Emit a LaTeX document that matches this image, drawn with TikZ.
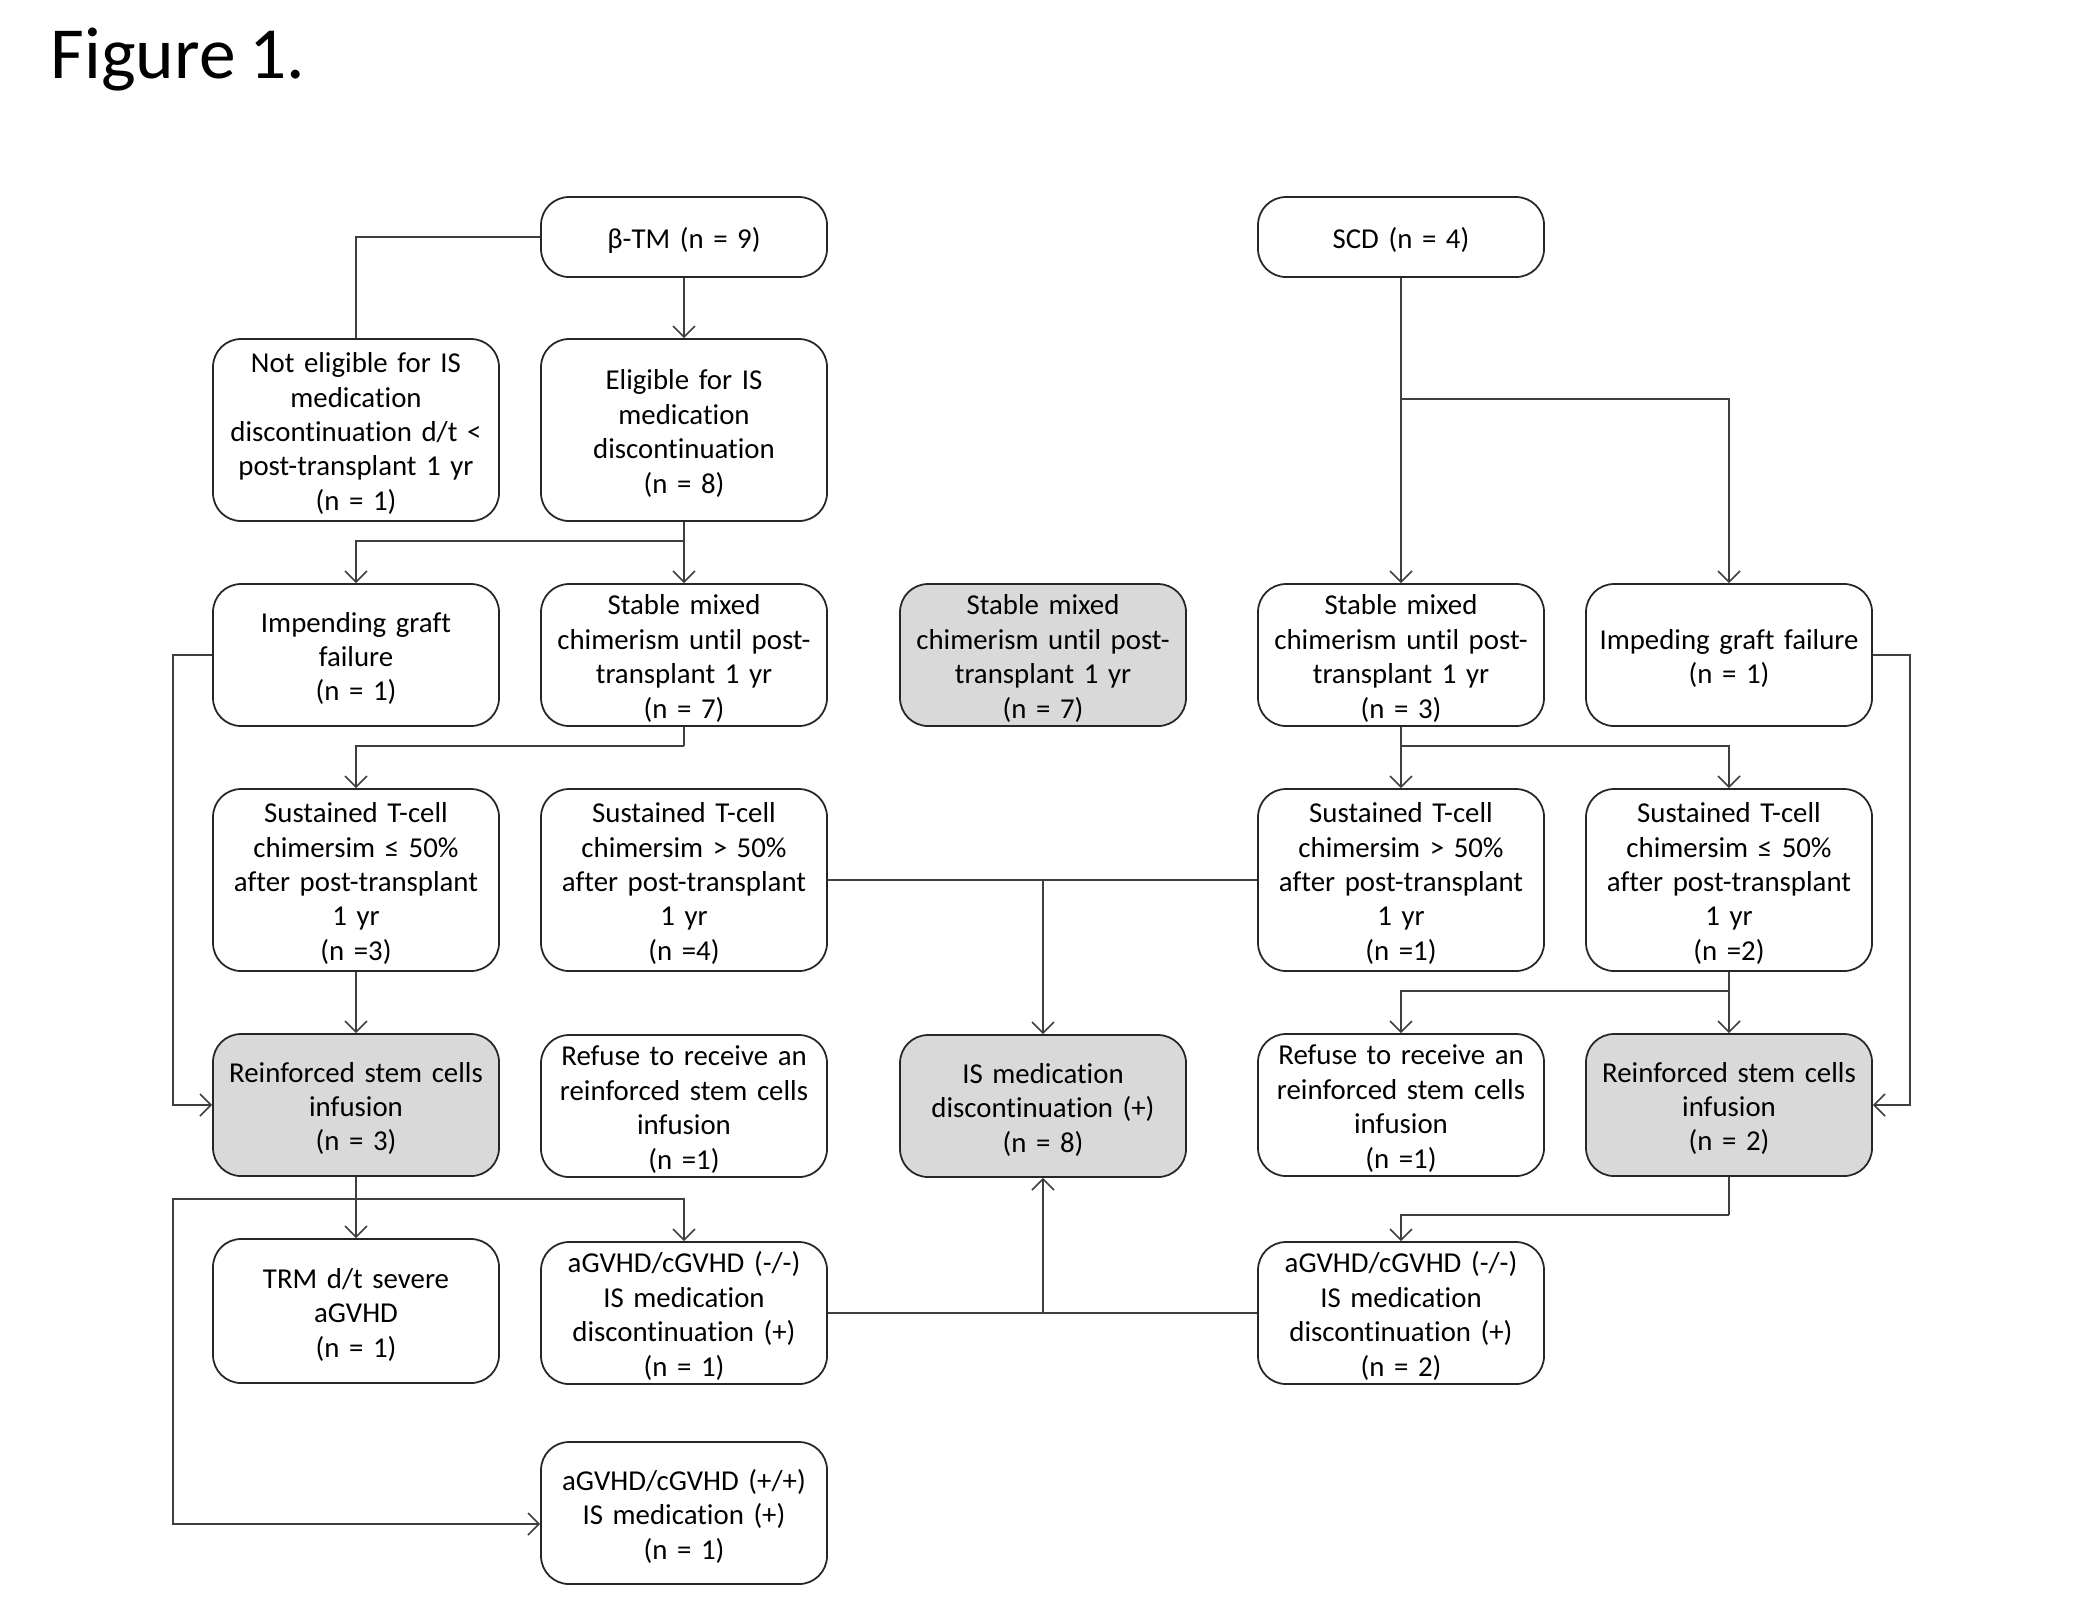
\documentclass[tikz,border=0pt]{standalone}
\usepackage{fontspec}
\setmainfont{Carlito}[Ligatures=NoCommon, WordSpace=0.85]
\usetikzlibrary{arrows.meta,calc}
\definecolor{boxgrey}{HTML}{D9D9D9}
\definecolor{linegrey}{HTML}{3F3F3F}
\newcommand{\topstrut}{\rule{0pt}{7.7pt}}
\tikzset{
  box/.style={draw=black!85, line width=0.5pt, rounded corners=2.8mm, fill=white,
    minimum width=28.6mm, text width=28mm, align=center, inner sep=0pt,
    font=\fontsize{8.2}{9.8}\selectfont,
    execute at begin node={\topstrut}},
  shaded/.style={box, fill=boxgrey},
  conn/.style={draw=linegrey, line width=0.45pt},
  arr/.style={conn, -{Straight Barb[length=1.1mm,width=2.2mm,line width=0.45pt]}}
}
\begin{document}
\begin{tikzpicture}[x=0.1mm,y=-0.1mm]
\path[use as bounding box] (0,0) rectangle (2100,1620);

\node[anchor=base west, inner sep=0pt, font=\fontsize{20.9}{24}\selectfont] (title) at (50,78) {Figure 1.};

% beta-thalassaemia branch
\node[box, minimum height=8mm] (bt) at (684,237) {β-TM (n = 9)};
\node[box, minimum height=18.2mm] (ne) at (356,430) {Not eligible for IS\\ medication\\ discontinuation d/t <\\ post-transplant 1 yr\\ (n = 1)};
\node[box, minimum height=18.2mm] (el) at (684,430) {Eligible for IS\\ medication\\ discontinuation\\ (n = 8)};
\node[box, minimum height=14.2mm] (igA) at (356,655) {Impending graft\\ failure\\ (n = 1)};
\node[box, minimum height=14.2mm] (smB) at (684,655) {Stable mixed\\ chimerism until post-\\ transplant 1 yr\\ (n = 7)};
\node[box, minimum height=18.2mm] (stA) at (356,880) {Sustained T-cell\\ chimersim ≤ 50\%\\ after post-transplant\\ 1 yr\\ (n =3)};
\node[box, minimum height=18.2mm] (stB) at (684,880) {Sustained T-cell\\ chimersim > 50\%\\ after post-transplant\\ 1 yr\\ (n =4)};
\node[shaded, minimum height=14.2mm] (rsA) at (356,1105) {Reinforced stem cells\\ infusion\\ (n = 3)};
\node[box, minimum height=14.2mm] (rfB) at (684,1106) {Refuse to receive an\\ reinforced stem cells\\ infusion\\ (n =1)};
\node[box, minimum height=14.4mm] (trm) at (356,1311) {TRM d/t severe\\ aGVHD\\ (n = 1)};
\node[box, minimum height=14.2mm] (gvB) at (684,1313) {aGVHD/cGVHD (-/-)\\ IS medication\\ discontinuation (+)\\ (n = 1)};
\node[box, minimum height=14.2mm] (gvP) at (684,1513) {aGVHD/cGVHD (+/+)\\ IS medication (+)\\ (n = 1)};

% pooled outcome column
\node[shaded, minimum height=14.2mm] (smC) at (1043,655) {Stable mixed\\ chimerism until post-\\ transplant 1 yr\\ (n = 7)};
\node[shaded, minimum height=14.2mm] (ism) at (1043,1106) {IS medication\\ discontinuation (+)\\ (n = 8)};

% sickle cell disease branch
\node[box, minimum height=8mm] (scd) at (1401,237) {SCD (n = 4)};
\node[box, minimum height=14.2mm] (smD) at (1401,655) {Stable mixed\\ chimerism until post-\\ transplant 1 yr\\ (n = 3)};
\node[box, minimum height=14.2mm] (igE) at (1729,655) {Impeding graft failure\\ (n = 1)};
\node[box, minimum height=18.2mm] (stD) at (1401,880) {Sustained T-cell\\ chimersim > 50\%\\ after post-transplant\\ 1 yr\\ (n =1)};
\node[box, minimum height=18.2mm] (stE) at (1729,880) {Sustained T-cell\\ chimersim ≤ 50\%\\ after post-transplant\\ 1 yr\\ (n =2)};
\node[box, minimum height=14.2mm] (rfD) at (1401,1105) {Refuse to receive an\\ reinforced stem cells\\ infusion\\ (n =1)};
\node[shaded, minimum height=14.2mm] (rsE) at (1729,1105) {Reinforced stem cells\\ infusion\\ (n = 2)};
\node[box, minimum height=14.2mm] (gvD) at (1401,1313) {aGVHD/cGVHD (-/-)\\ IS medication\\ discontinuation (+)\\ (n = 2)};

% junction points
\coordinate (j1) at (684,541);
\coordinate (j2) at (684,746);
\coordinate (j3) at (356,1199);
\coordinate (railLa) at (173,655);
\coordinate (railLb) at (173,1199);
\coordinate (j4) at (1401,399);
\coordinate (j5) at (1401,746);
\coordinate (j6) at (1729,991);
\coordinate (j7) at (1729,1215);
\coordinate (railR) at (1910,655);

% beta-TM connectors
\draw[conn] (bt.west) -| (ne.north);
\draw[arr] (bt.south) -- (el.north);
\draw[arr] (el.south) -- (smB.north);
\draw[arr] (j1) -| (igA.north);
\draw[conn] (smB.south) -- (j2);
\draw[arr] (j2) -| (stA.north);
\draw[arr] (stA.south) -- (rsA.north);
\draw[arr] (igA.west) -- (railLa) |- (rsA.west);
\draw[arr] (rsA.south) -- (trm.north);
\draw[arr] (j3) -| (gvB.north);
\draw[arr] (j3) -- (railLb) |- ($(gvP.west)+(0,11)$);

% links into the pooled box
\draw[conn] (stB.east) -- (stD.west);
\draw[arr] (stB.east -| ism.north) -- (ism.north);
\draw[conn] (gvB.east) -- (gvD.west);
\draw[arr] (gvB.east -| ism.south) -- (ism.south);

% SCD connectors
\draw[arr] (scd.south) -- (smD.north);
\draw[arr] (j4) -| (igE.north);
\draw[arr] (smD.south) -- (stD.north);
\draw[arr] (j5) -| (stE.north);
\draw[arr] (stE.south) -- (rsE.north);
\draw[arr] (j6) -| (rfD.north);
\draw[arr] (igE.east) -- (railR) |- (rsE.east);
\draw[conn] (rsE.south) -- (j7);
\draw[arr] (j7) -| (gvD.north);
\end{tikzpicture}
\end{document}
